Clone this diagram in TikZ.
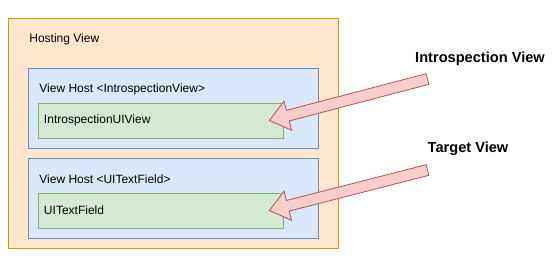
\documentclass[tikz,border=0pt]{standalone}
\usepackage{fontspec}
\setmainfont{Liberation Sans}
\usetikzlibrary{calc}
\definecolor{hostfill}{HTML}{FFE6CC}\definecolor{hostline}{HTML}{D79B00}
\definecolor{vhfill}{HTML}{DAE8FC}\definecolor{vhline}{HTML}{6C8EBF}
\definecolor{uifill}{HTML}{D5E8D4}\definecolor{uiline}{HTML}{82B366}
\definecolor{arrfill}{HTML}{F8CECC}\definecolor{arrline}{HTML}{B85450}
% flat block arrow from #1 (tail) to #2 (tip)
\newcommand{\blockarrow}[2]{%
  \coordinate (hb) at ($(#2)!19bp!(#1)$);
  \draw[arrow body] ($(#1)!5.5bp!90:(#2)$) -- ($(hb)!5.5bp!90:(#2)$) -- ($(hb)!15bp!90:(#2)$) -- (#2)
    -- ($(hb)!15bp!-90:(#2)$) -- ($(hb)!5.5bp!-90:(#2)$) -- ($(#1)!5.5bp!-90:(#2)$) -- cycle;}
\begin{document}
\begin{tikzpicture}[x=1bp, y=-1bp, line width=0.8bp, every node/.style={font=\fontsize{12bp}{14bp}\selectfont, inner sep=0pt},
  hosting/.style={draw=hostline, fill=hostfill, minimum width=330bp, minimum height=230bp},
  viewhost/.style={draw=vhline, fill=vhfill, minimum width=290bp, minimum height=80bp},
  uiview/.style={draw=uiline, fill=uifill, minimum height=35bp, text width=233bp, inner xsep=6bp, align=left},
  arrow body/.style={draw=arrline, fill=arrfill, line join=miter},
  callout/.style={font=\fontsize{14.6bp}{17bp}\selectfont\bfseries}]
    \useasboundingbox (0,0) rectangle (559,261);
    \node[hosting] (host) at (173,133) {};
    \node[anchor=west] (hostlabel) at (29,39) {Hosting View};
    \node[viewhost] (vh1) at (173,108) {};
    \node[anchor=west] (vh1label) at (39,89) {View Host <IntrospectionView>};
    \node[uiview] (ui1) at (160.5,120.5) {IntrospectionUIView};
    \node[viewhost] (vh2) at (173,198) {};
    \node[anchor=west] (vh2label) at (39,179) {View Host <UITextField>};
    \node[uiview] (ui2) at (160.5,210.5) {UITextField};
    \node[callout] (intro) at (480,59) {Introspection View};
    \node[callout] (target) at (468,149) {Target View};
    \coordinate (tailA) at (427.5,79);
    \coordinate (tipA) at ([xshift=-14bp]ui1.east);
    \coordinate (tailB) at (427.5,170);
    \coordinate (tipB) at ([xshift=-14bp]ui2.east);
    \blockarrow{tailA}{tipA}
    \blockarrow{tailB}{tipB}
\end{tikzpicture}
\end{document}
